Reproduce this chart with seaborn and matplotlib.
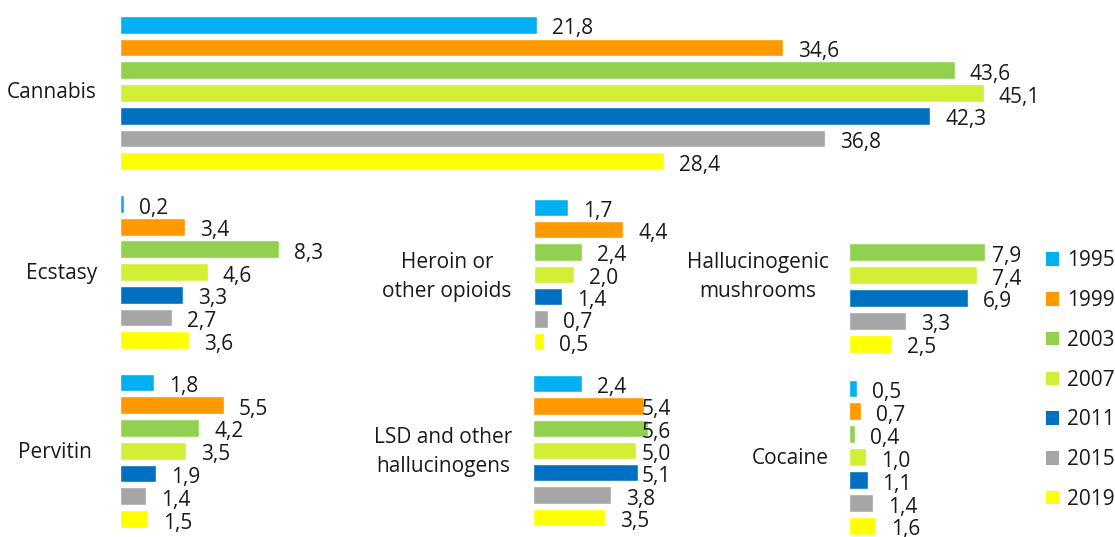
import numpy as np
import pandas as pd
import matplotlib
matplotlib.use('Agg')
import matplotlib.pyplot as plt
import seaborn as sns
from matplotlib.patches import Patch

# survey years and their colours
years = ['1995', '1999', '2003', '2007', '2011', '2015', '2019']
colors = ['#00B0F0', '#FF9900', '#92D050', '#D2EE35', '#0070C0', '#A6A6A6', '#FFFF00']

# prevalence values (%)
cannabis = [21.8, 34.6, 43.6, 45.1, 42.3, 36.8, 28.4]
ecstasy = [0.2, 3.4, 8.3, 4.6, 3.3, 2.7, 3.6]
pervitin = [1.8, 5.5, 4.2, 3.5, 1.9, 1.4, 1.5]
heroin = [1.7, 4.4, 2.4, 2.0, 1.4, 0.7, 0.5]
lsd = [2.4, 5.4, 5.6, 5.0, 5.1, 3.8, 3.5]
mushrooms = [np.nan, np.nan, 7.9, 7.4, 6.9, 3.3, 2.5]
cocaine = [0.5, 0.7, 0.4, 1.0, 1.1, 1.4, 1.6]

names = ['Cannabis', 'Ecstasy', 'Pervitin', 'Heroin or\nother opioids',
         'LSD and other\nhallucinogens', 'Hallucinogenic\nmushrooms', 'Cocaine']
series = [cannabis, ecstasy, pervitin, heroin, lsd, mushrooms, cocaine]

# panel layout in pixels: x0, px per unit, first bar centre, bar step, xmax, label clamp, name x, name y
layout = {
    'Cannabis': (120, 19.15, 24.8, 22.75, 50, None, 52, 93),
    'Ecstasy': (120, 19.1, 204, 22.67, 12, None, 62, 273),
    'Pervitin': (120, 18.9, 382.5, 22.75, 12, None, 55, 452),
    'Heroin or\nother opioids': (533.5, 20.4, 207.3, 22.33, 8, None, 447, 277),
    'LSD and other\nhallucinogens': (533, 20.5, 383.7, 22.27, 8, 641.5, 443, 452),
    'Hallucinogenic\nmushrooms': (849, 17.25, 206.4, 22.9, 10, 992, 758, 277),
    'Cocaine': (848.5, 17.3, 388.5, 22.9, 5, None, 790, 458),
}

W, H = 1115, 537
sns.set_style('white')
plt.rcParams['font.family'] = ['Open Sans', 'DejaVu Sans']
fs = 15

fig = plt.figure(figsize=(W / 100, H / 100), dpi=100)
pal = dict(zip(years, colors))

for name, vals in zip(names, series):
    x0, sc, c0, step, xmax, clamp, nx, ny = layout[name]
    top = c0 - step / 2
    ax = fig.add_axes([x0 / W, 1 - (top + 7 * step) / H, xmax * sc / W, 7 * step / H])
    df = pd.DataFrame({'year': years, 'value': vals})
    sns.barplot(data=df, x='value', y='year', hue='year', order=years, hue_order=years,
                palette=pal, saturation=1, legend=False, width=0.78, errorbar=None,
                orient='h', ax=ax)
    ax.set_xlim(0, xmax)
    ax.set_ylim(6.5, -0.5)
    ax.axis('off')
    for i, v in enumerate(vals):
        if np.isnan(v):
            continue
        lx = v + 15 / sc
        if clamp is not None:
            lx = min(lx, (clamp - x0) / sc)
        ax.text(lx, i + 4 / step, f'{v:.1f}'.replace('.', ','), va='center', ha='left',
                fontsize=fs, color='#1a1a1a', clip_on=False)
    fig.text(nx / W, 1 - ny / H, name, ha='center', va='center', fontsize=fs,
             color='#1a1a1a', linespacing=1.45)

handles = [Patch(facecolor=c, edgecolor='none') for c in colors]
fig.legend(handles, years, loc='upper left', bbox_to_anchor=(1046 / W, 1 - 250.5 / H),
           frameon=False, fontsize=fs, handlelength=0.62, handleheight=0.62,
           handletextpad=0.38, labelspacing=0.9, borderpad=0, borderaxespad=0,
           labelcolor='#1a1a1a')

fig.savefig('out.png', dpi=100)
